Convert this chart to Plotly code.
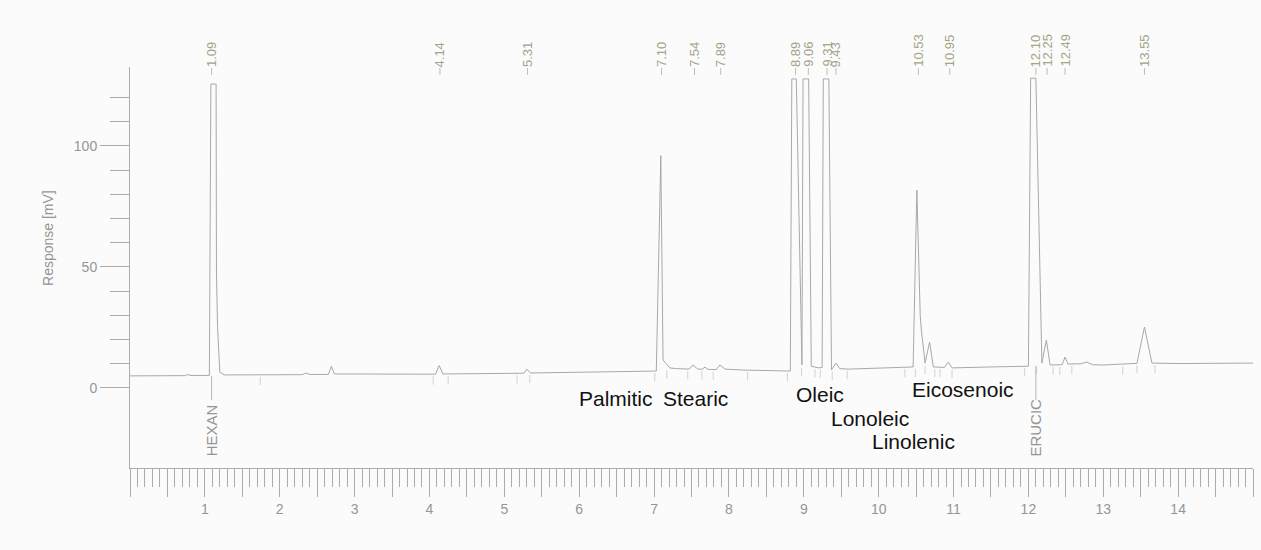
import plotly.graph_objects as go

# ---------------- data ----------------
time_min = [0.00, 0.74, 0.77, 0.80, 1.06,
            1.08, 1.15, 1.155, 1.17, 1.20, 1.26,
            2.30, 2.35, 2.40, 2.65, 2.69, 2.73,
            4.08, 4.13, 4.18, 5.26, 5.30, 5.35,
            7.03, 7.09, 7.12, 7.15, 7.21, 7.30,
            7.47, 7.52, 7.58, 7.64, 7.68, 7.72, 7.83, 7.88, 7.95, 8.20,
            8.82, 8.84, 8.90, 8.975, 8.99, 9.065, 9.10, 9.20, 9.245, 9.26, 9.335,
            9.37, 9.43, 9.48, 9.60,
            10.46, 10.51, 10.555, 10.57, 10.62, 10.68, 10.73, 10.88, 10.93, 10.98, 11.50,
            12.00, 12.03, 12.10, 12.18, 12.24, 12.29, 12.45, 12.49, 12.53, 12.70, 12.78,
            12.86, 13.00, 13.45, 13.55, 13.65, 14.00, 15.00]
response_mv = [5.0, 5.1, 5.6, 5.2, 5.2,
               125.6, 125.6, 47.0, 25.0, 6.5, 5.4,
               5.5, 6.2, 5.6, 5.6, 9.0, 5.8,
               5.7, 9.3, 5.8, 6.1, 7.8, 6.2,
               7.0, 96.0, 11.6, 10.5, 8.3, 8.0,
               7.8, 9.5, 7.9, 7.7, 8.6, 7.7, 7.6, 9.5, 7.8, 7.4,
               7.0, 127.7, 127.7, 9.5, 127.7, 127.7, 9.0, 8.3, 8.5, 127.7, 127.7,
               7.5, 10.3, 8.0, 7.8,
               8.7, 81.8, 30.0, 24.0, 10.3, 19.0, 8.7, 8.5, 10.7, 8.3, 8.7,
               9.0, 128.0, 128.0, 10.3, 19.8, 9.5, 9.6, 12.8, 9.9, 10.0, 10.7,
               9.6, 9.5, 10.2, 25.2, 10.3, 10.1, 10.3]

peak_times = [1.09, 4.14, 5.31, 7.10, 7.54, 7.89, 8.89, 9.06, 9.31, 9.43,
              10.53, 10.95, 12.10, 12.25, 12.49, 13.55]
peak_labels = ["1.09", "4.14", "5.31", "7.10", "7.54", "7.89", "8.89", "9.06", "9.31", "9.43",
               "10.53", "10.95", "12.10", "12.25", "12.49", "13.55"]

named_peaks = ["HEXAN", "ERUCIC"]
named_times = [1.09, 12.10]
named_base = [5.0, 9.0]

acid_names = ["Palmitic", "Stearic", "Oleic", "Lonoleic", "Linolenic", "Eicosenoic"]
acid_x = [6.49, 7.56, 9.22, 9.88, 10.46, 11.13]
acid_y = [-4.5, -4.5, -2.8, -12.6, -22.2, -0.8]

integ_times = [1.74, 4.05, 4.25, 5.17, 5.34, 7.01, 7.17, 7.45, 7.64, 7.79, 8.25,
               8.78, 8.97, 9.15, 9.22, 9.38, 9.58, 10.35, 10.49, 10.62, 10.75, 10.82,
               10.98, 11.95, 12.11, 12.33, 12.42, 12.58, 13.26, 13.45, 13.69]
integ_base = [5.4, 5.6, 5.7, 6.1, 6.2, 7.0, 8.0, 7.8, 7.7, 7.6, 7.4,
              7.0, 9.0, 8.5, 8.4, 7.5, 7.8, 8.6, 8.7, 10.0, 8.7, 8.6,
              8.3, 9.0, 10.0, 9.6, 9.6, 9.9, 9.6, 10.2, 10.3]

x_major = [i * 0.5 for i in range(31)]
x_ticktext = ["" if (v == 0 or v == 15 or v != int(v)) else str(int(v)) for v in x_major]
y_major = [0, 50, 100]
y_minor = [10, 20, 30, 40, 60, 70, 80, 90, 110, 120]

# ---------------- styles ----------------
FONT = "Arial, 'Liberation Sans', sans-serif"
GRAY_LINE = "#acacac"
GRAY_TEXT = "#959595"
OLIVE_TEXT = "#a3a388"
BG = "#fbfbfb"

fig = go.Figure()

fig.add_trace(go.Scatter(x=time_min, y=response_mv, mode="lines",
                         line=dict(color="#a8a8a8", width=1), hoverinfo="skip"))

# short dashes under the retention-time labels
dx, dy = [], []
for t in peak_times:
    dx += [t, t, None]
    dy += [132.2, 129.4, None]
fig.add_trace(go.Scatter(x=dx, y=dy, mode="lines", line=dict(color="#bdbdaa", width=1),
                         hoverinfo="skip"))

# integration marks under the baseline
ix, iy = [], []
for t, b in zip(integ_times, integ_base):
    ix += [t, t, None]
    iy += [b - 0.8, b - 4.2, None]
fig.add_trace(go.Scatter(x=ix, y=iy, mode="lines", line=dict(color="#d2d2d2", width=1),
                         hoverinfo="skip"))

# named-peak marker lines
nx, ny = [], []
for t, b in zip(named_times, named_base):
    nx += [t, t, None]
    ny += [b, -5.0, None]
fig.add_trace(go.Scatter(x=nx, y=ny, mode="lines", line=dict(color="#b4b4b4", width=1),
                         hoverinfo="skip"))

annotations = []
for t, lab in zip(peak_times, peak_labels):
    annotations.append(dict(x=t, y=1.0, xref="x", yref="paper", text=lab, textangle=-90,
                            showarrow=False, xanchor="center", yanchor="bottom",
                            font=dict(family=FONT, size=13, color=OLIVE_TEXT),
                            borderpad=0, yshift=-1))
for t, lab in zip(named_times, named_peaks):
    annotations.append(dict(x=t, y=-28.8, xref="x", yref="y", text=lab, textangle=-90,
                            showarrow=False, xanchor="center", yanchor="bottom",
                            font=dict(family=FONT, size=15, color=GRAY_TEXT), borderpad=0))
for lab, x, y in zip(acid_names, acid_x, acid_y):
    annotations.append(dict(x=x, y=y, xref="x", yref="y", text=lab, showarrow=False,
                            xanchor="center", yanchor="middle",
                            font=dict(family=FONT, size=21, color="#111111")))
annotations.append(dict(x=(48 - 130) / 1123.0, y=62, xref="paper", yref="y",
                        text="Response [mV]", textangle=-90, showarrow=False,
                        xanchor="center", yanchor="middle",
                        font=dict(family=FONT, size=14, color=GRAY_TEXT)))
annotations.append(dict(x=7.5, y=-55.5, xref="x", yref="y", text="Time [min]",
                        showarrow=False, xanchor="center", yanchor="middle",
                        font=dict(family=FONT, size=14, color=GRAY_TEXT)))

fig.update_layout(
    width=1261, height=550, autosize=False,
    margin=dict(l=130, r=8, t=67, b=82, pad=0),
    paper_bgcolor=BG, plot_bgcolor=BG,
    showlegend=False,
    annotations=annotations,
    xaxis=dict(range=[0, 15], showgrid=False, zeroline=False, showline=True,
               linecolor=GRAY_LINE, linewidth=1, ticks="outside", ticklen=28,
               tickcolor=GRAY_LINE, tickwidth=1, tickmode="array", tickvals=x_major,
               ticktext=x_ticktext, tickfont=dict(family=FONT, size=14, color=GRAY_TEXT),
               minor=dict(dtick=0.1, tick0=0, ticks="outside", ticklen=18,
                          tickcolor=GRAY_LINE, tickwidth=1, showgrid=False),
               fixedrange=True),
    yaxis=dict(range=[-33.06, 132.64], showgrid=False, zeroline=False, showline=True,
               linecolor=GRAY_LINE, linewidth=1, ticks="outside", ticklen=29,
               tickcolor=GRAY_LINE, tickwidth=1, tickmode="array", tickvals=y_major,
               ticktext=[str(v) for v in y_major],
               tickfont=dict(family=FONT, size=14, color=GRAY_TEXT),
               minor=dict(tickmode="array", tickvals=y_minor, ticks="outside", ticklen=19,
                          tickcolor=GRAY_LINE, tickwidth=1, showgrid=False),
               fixedrange=True),
)

fig.write_html("out.html", config={"displayModeBar": False},
               post_script="document.body.style.margin='0';document.body.style.overflow='hidden';")
